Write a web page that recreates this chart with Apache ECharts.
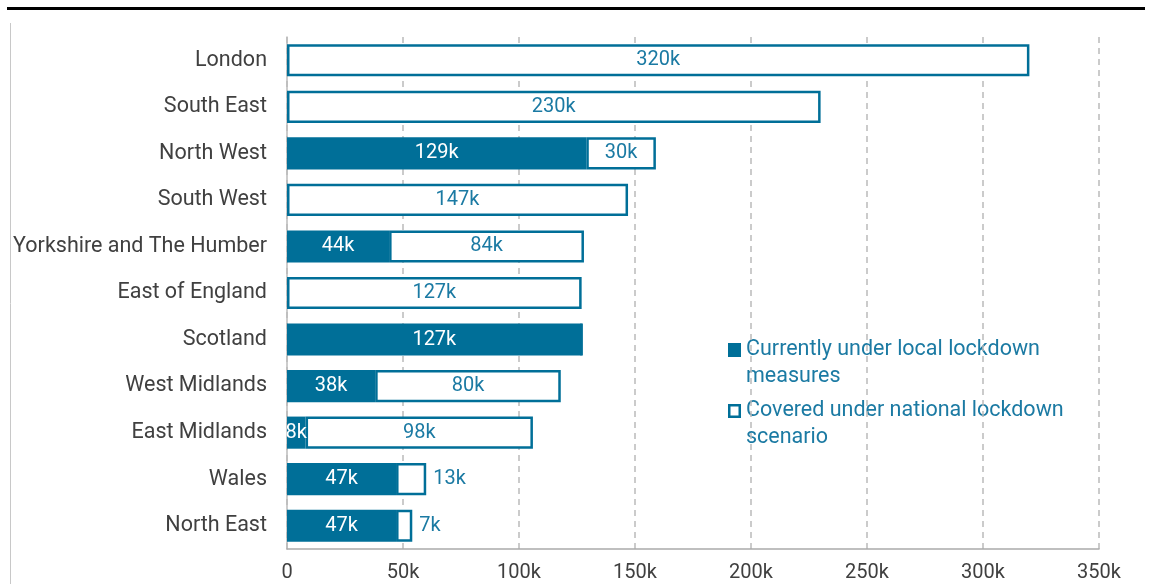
<!DOCTYPE html>
<html><head><meta charset="utf-8">
<script src="https://cdn.jsdelivr.net/npm/echarts@6/dist/echarts.min.js"></script>
<style>html,body{margin:0;padding:0;background:#fff}#c{width:1150px;height:584px}</style>
</head><body><div id="c"></div>
<script>
const categories = ["London","South East","North West","South West","Yorkshire and The Humber","East of England","Scotland","West Midlands","East Midlands","Wales","North East"];
const localLockdown = [0,0,129,0,44,0,127,38,8,47,47];
const nationalLockdown = [320,230,30,147,84,127,0,80,98,13,7];
const tickLabels = ["0","50k","100k","150k","200k","250k","300k","350k"];
const seriesNames = ["Currently under local lockdown measures","Covered under national lockdown scenario"];
const legendLines = [
  ["Currently under local lockdown","measures"],
  ["Covered under national lockdown","scenario"]
];
const BLUE = '#006f98';
const TXT = '#1b7aa3';
const FONT = 'Roboto';

const legendGraphics = [];
legendLines.forEach((lines,i)=>{
  const y0 = 350 + i*61;
  legendGraphics.push(i===0
    ? {type:'rect',shape:{x:728,y:y0-7,width:13,height:14},style:{fill:BLUE}}
    : {type:'rect',shape:{x:729.25,y:y0-5.75,width:10.5,height:11.5},style:{fill:'#fff',stroke:BLUE,lineWidth:2.5}});
  lines.forEach((t,j)=>legendGraphics.push({type:'text',x:746,y:y0+j*27,
    style:{text:t,fill:TXT,font:'21.5px '+FONT,textVerticalAlign:'middle',verticalAlign:'middle'}}));
});

const chart = echarts.init(document.getElementById('c'), null, {renderer:'canvas'});
chart.setOption({
  animation:false,
  textStyle:{fontFamily:FONT},
  grid:{left:287,right:51,top:37,bottom:35,containLabel:false},
  graphic:[
    {type:'line',shape:{x1:7,y1:8.5,x2:1145,y2:8.5},style:{stroke:'#000',lineWidth:3}},
    {type:'line',shape:{x1:10.5,y1:23,x2:10.5,y2:584},style:{stroke:'#c8c8c8',lineWidth:1}}
  ].concat(legendGraphics),
  legend:{show:false,data:seriesNames},
  xAxis:{
    type:'value',min:0,max:350,interval:50,
    axisLine:{show:true,lineStyle:{color:'#aaa',width:1.5}},
    axisTick:{show:false},
    splitLine:{show:true,lineStyle:{color:'#bbb',type:[6,5],width:1.5}},
    axisLabel:{color:'#404040',fontSize:20,margin:14,fontFamily:FONT,
      formatter:v=>tickLabels[Math.round(v/50)]}
  },
  yAxis:{
    type:'category',data:categories,inverse:true,
    axisLine:{show:true,lineStyle:{color:'#bbb',width:1.5}},
    axisTick:{show:false},
    axisLabel:{color:'#404040',fontSize:21.5,margin:20,fontFamily:FONT}
  },
  series:[
    {
      name:seriesNames[0],type:'bar',stack:'t',barCategoryGap:'31%',
      itemStyle:{color:BLUE},
      label:{show:true,position:'inside',color:'#fff',fontSize:20,fontFamily:FONT,
        formatter:p=>p.value>0?p.value+'k':''},
      data:localLockdown
    },
    {
      name:seriesNames[1],type:'bar',stack:'t',barCategoryGap:'31%',
      itemStyle:{color:'#fff',borderColor:BLUE,borderWidth:2.5},
      label:{show:true,position:'inside',color:TXT,fontSize:20,fontFamily:FONT,
        formatter:p=>p.value>0?p.value+'k':''},
      data:nationalLockdown.map(v=>v>0&&v<20?{value:v,label:{position:'right',distance:7}}:v)
    }
  ]
});
</script></body></html>
